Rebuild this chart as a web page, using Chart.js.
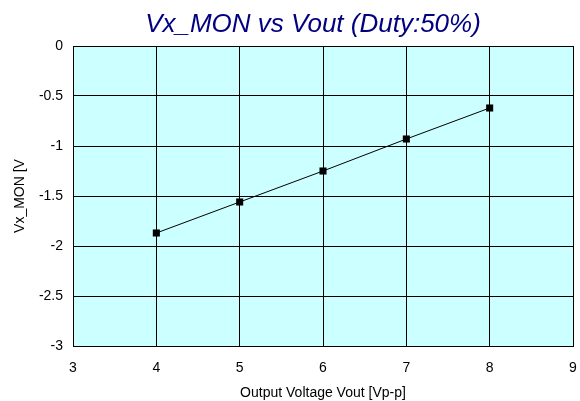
<!DOCTYPE html>
<html>
<head>
<meta charset="utf-8">
<script src="https://cdn.jsdelivr.net/npm/chart.js@4"></script>
<style>
  html, body { margin: 0; padding: 0; background: #fff; }
</style>
</head>
<body>
<canvas id="myChart" width="580" height="401"></canvas>
<script>
// Vout [Vp-p] on x, Vx_MON [V] on y
var vout = [4, 5, 6, 7, 8];
var vxMon = [-1.87, -1.56, -1.25, -0.93, -0.62];
var xRange = [3, 9];
var yRange = [-3, 0];
var chartTitle = "Vx_MON vs Vout (Duty:50%)";

var points = vout.map(function (v, i) { return { x: v, y: vxMon[i] }; });
var fontFam = "'Liberation Sans', Arial, sans-serif";

// cyan plot area like the excel chart
var plotBg = {
    id: 'plotBg',
    beforeDraw: function (chart) {
        var a = chart.chartArea;
        var c = chart.ctx;
        c.save();
        c.fillStyle = '#CCFFFF';
        c.fillRect(a.left, a.top, a.right - a.left, a.bottom - a.top);
        c.restore();
    }
};

// excel puts the title a bit right of the canvas centre
var titleText = {
    id: 'titleText',
    afterDraw: function (chart) {
        var c = chart.ctx;
        c.save();
        c.font = "italic 26px " + fontFam;
        c.fillStyle = "#000080";
        c.textAlign = "center";
        c.textBaseline = "middle";
        c.fillText(chartTitle, 313, 25);
        c.restore();
    }
};

var ctx = document.getElementById("myChart");
var myChart = new Chart(ctx, {
    type: 'scatter',
    data: {
        datasets: [
            {
                label: "Vx_MON",
                data: points,
                showLine: true,
                borderColor: "#000000",
                borderWidth: 1,
                backgroundColor: "#000000",
                pointStyle: 'rect',
                pointRadius: 5,
                pointBorderWidth: 0
            }
        ]
    },
    options: {
        responsive: false,
        animation: false,
        devicePixelRatio: 1,
        layout: { padding: { left: 0, right: 7, top: 46, bottom: 0 } },
        plugins: {
            legend: { display: false },
            tooltip: { enabled: false },
            title: { display: false }
        },
        scales: {
            x: {
                type: 'linear',
                min: xRange[0],
                max: xRange[1],
                ticks: {
                    stepSize: 1,
                    color: "#000",
                    padding: 14,
                    font: { family: fontFam, size: 14 }
                },
                grid: { color: "#000", lineWidth: 1, drawTicks: false },
                border: { color: "#000", width: 1 },
                title: {
                    display: true,
                    text: "Output Voltage Vout [Vp-p]",
                    color: "#000",
                    font: { family: fontFam, size: 14 },
                    padding: { top: 0, bottom: -1 }
                },
                afterFit: function (s) {
                    s.height = 55;
                    s.paddingLeft = 0;
                    s.paddingRight = 0;
                }
            },
            y: {
                type: 'linear',
                min: yRange[0],
                max: yRange[1],
                ticks: {
                    stepSize: 0.5,
                    color: "#000",
                    padding: 10,
                    font: { family: fontFam, size: 14 },
                    callback: function (v) { return String(v); }
                },
                grid: { color: "#000", lineWidth: 1, drawTicks: false },
                border: { color: "#000", width: 1 },
                title: {
                    display: true,
                    text: "Vx_MON [V",
                    color: "#000",
                    font: { family: fontFam, size: 14 },
                    padding: { top: 12, bottom: 0 }
                },
                afterFit: function (s) {
                    s.width = 73;
                    s.paddingTop = 0;
                    s.paddingBottom = 0;
                }
            }
        }
    },
    plugins: [plotBg, titleText]
});
</script>
</body>
</html>
